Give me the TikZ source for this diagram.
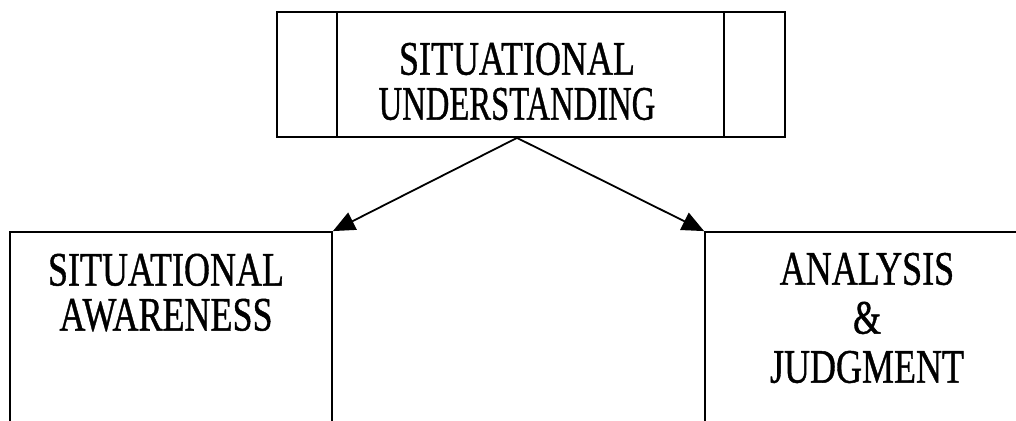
\documentclass[tikz,border=0pt]{standalone}
\usepackage{fontspec}
\newfontfamily\boxfont[FakeBold=1]{Liberation Serif}
\usetikzlibrary{arrows.meta,calc}
\newcommand{\narrow}[2][0.75]{\scalebox{#1}[1]{#2}}

\begin{document}
\begin{tikzpicture}[x=1pt,y=-1pt,
		frame/.style={draw,line width=1.8pt,inner sep=0pt},
		caption/.style={align=center,inner sep=0pt,font=\boxfont\fontsize{48}{45}\selectfont},
		link/.style={line width=1.8pt,-{Triangle[length=22pt,width=19pt]}}]
	\useasboundingbox (0,0) rectangle (1016,420);
	\clip (0,0) rectangle (1016,420);
	% top box and its two side panels
	\node[frame,minimum width=508pt,minimum height=125pt] (und) at (531,74.5) {};
	\draw[line width=1.8pt] ($(und.north west)+(61,0)$) -- ($(und.south west)+(61,0)$);
	\draw[line width=1.8pt] ($(und.north east)+(-62,0)$) -- ($(und.south east)+(-62,0)$);
	\node[caption] (undtext) at (517,81.5) {\narrow{SITUATIONAL}\\\narrow[0.68]{UNDERSTANDING}};
	% the two lower boxes, open at the bottom of the page
	\node[frame,minimum width=322pt,minimum height=300pt] (awarebox) at (171,382) {};
	\node[caption] (aware) at (166,292.5) {\narrow{SITUATIONAL}\\\narrow{AWARENESS}};
	\node[frame,minimum width=400pt,minimum height=300pt] (judgebox) at (905,382) {};
	\node[caption,font=\boxfont\fontsize{48}{49}\selectfont] (judge) at (867,318) {\narrow{ANALYSIS}\\\narrow{\&}\\\narrow{JUDGMENT}};
	% arrows down to the corners
	\draw[link] (undtext |- und.south) -- (awarebox.north east);
	\draw[link] (undtext |- und.south) -- (judgebox.north west);
\end{tikzpicture}
\end{document}
